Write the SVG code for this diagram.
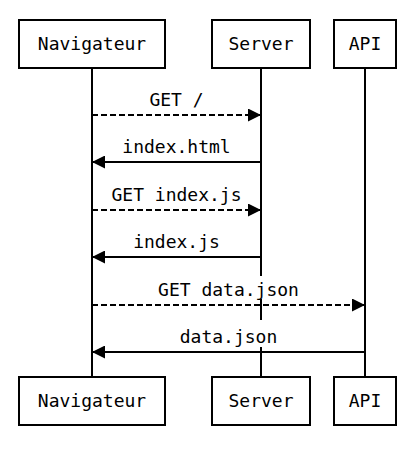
<svg xmlns="http://www.w3.org/2000/svg" width="418" height="453" viewBox="0 0 418 453">
<defs>
<style>
.box{fill:#fff;stroke:#000;stroke-width:2}
.life{stroke:#000;stroke-width:2}
.lbl{font-family:"DejaVu Sans Mono","Liberation Mono",monospace;font-size:18px;fill:#000;text-anchor:middle}
.msg{stroke:#000;stroke-width:2;fill:none}
.dash{stroke-dasharray:6 3}
.bg{fill:#fff}
</style>
<marker id="ah" viewBox="0 0 13 13" refX="13" refY="6.5" markerWidth="13" markerHeight="13" markerUnits="userSpaceOnUse" orient="auto">
<path d="M0,0 L13,6.5 L0,13 Z" fill="#000"/>
</marker>
</defs>
<rect width="418" height="453" fill="#fff"/>
<g id="lifelines">
<line class="life" x1="92" y1="68" x2="92" y2="377"/>
<line class="life" x1="261" y1="68" x2="261" y2="377"/>
<line class="life" x1="365" y1="68" x2="365" y2="377"/>
</g>
<g id="connectors">
<g id="m1"><rect class="bg" x="146" y="85" width="60" height="25"/><text class="lbl" x="176.5" y="106">GET /</text><line class="msg dash" x1="92" y1="115" x2="261" y2="115" marker-end="url(#ah)"/></g>
<g id="m2"><rect class="bg" x="119" y="132" width="115" height="25"/><text class="lbl" x="176.5" y="153">index.html</text><line class="msg" x1="261" y1="162" x2="92" y2="162" marker-end="url(#ah)"/></g>
<g id="m3"><rect class="bg" x="108" y="180" width="137" height="25"/><text class="lbl" x="176.5" y="201">GET index.js</text><line class="msg dash" x1="92" y1="210" x2="261" y2="210" marker-end="url(#ah)"/></g>
<g id="m4"><rect class="bg" x="130" y="227" width="93" height="25"/><text class="lbl" x="176.5" y="248">index.js</text><line class="msg" x1="261" y1="257" x2="92" y2="257" marker-end="url(#ah)"/></g>
<g id="m5"><rect class="bg" x="156" y="276" width="145" height="23"/><text class="lbl" x="228.5" y="296">GET data.json</text><line class="msg dash" x1="92" y1="305" x2="365" y2="305" marker-end="url(#ah)"/></g>
<g id="m6"><rect class="bg" x="178" y="320" width="101" height="27"/><text class="lbl" x="228.5" y="343">data.json</text><line class="msg" x1="365" y1="352" x2="92" y2="352" marker-end="url(#ah)"/></g>
</g>
<g id="navigateur-top"><rect class="box" x="19" y="20" width="146" height="48"/><text class="lbl" x="92" y="50">Navigateur</text></g>
<g id="server-top"><rect class="box" x="212" y="20" width="98" height="48"/><text class="lbl" x="261" y="50">Server</text></g>
<g id="api-top"><rect class="box" x="334" y="20" width="62" height="48"/><text class="lbl" x="365" y="50">API</text></g>
<g id="navigateur-bottom"><rect class="box" x="19" y="377" width="146" height="48"/><text class="lbl" x="92" y="407">Navigateur</text></g>
<g id="server-bottom"><rect class="box" x="212" y="377" width="98" height="48"/><text class="lbl" x="261" y="407">Server</text></g>
<g id="api-bottom"><rect class="box" x="334" y="377" width="62" height="48"/><text class="lbl" x="365" y="407">API</text></g>
</svg>
